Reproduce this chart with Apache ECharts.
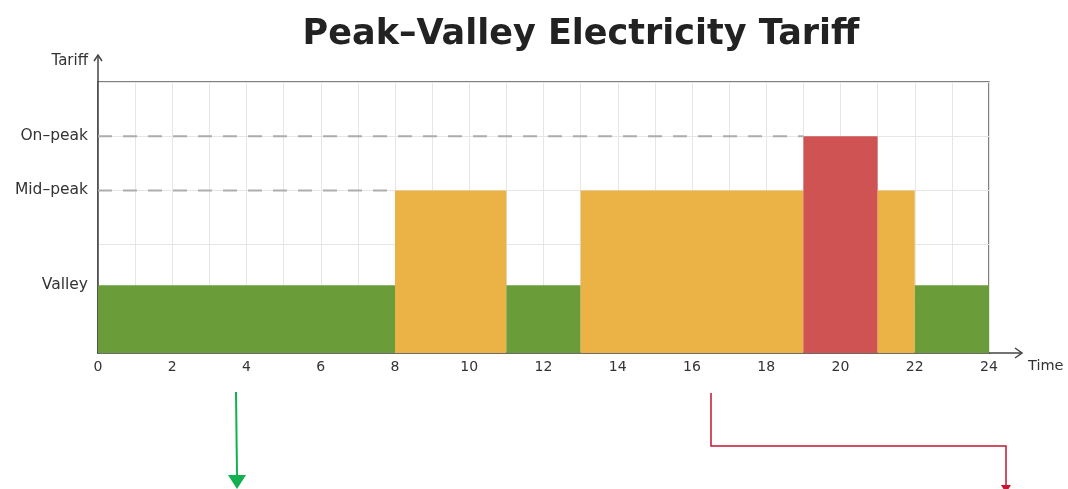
<!DOCTYPE html>
<html>
<head>
<meta charset="utf-8">
<title>Peak–Valley Electricity Tariff</title>
<script src="https://cdn.jsdelivr.net/npm/echarts@6/dist/echarts.min.js"></script>
<style>
  html, body { margin: 0; padding: 0; background: #ffffff; }
  #chart { width: 1068px; height: 489px; }
</style>
</head>
<body>
<div id="chart"></div>
<script>
// Tariff tiers: names shown on the y axis and their relative levels
const tierNames = ['Valley', 'Mid–peak', 'On–peak'];
const tierValues = [1.25, 3, 4];
const tierColors = ['#6a9d3a', '#ebb345', '#d05353'];

// Time-of-day segments (hours) and the tier index of each
const segStart = [0, 8, 11, 13, 19, 21, 22];
const segEnd = [8, 11, 13, 19, 21, 22, 24];
const segTier = [0, 1, 0, 1, 2, 1, 0];

// Hour labels on the time axis
const hourLabels = [0, 2, 4, 6, 8, 10, 12, 14, 16, 18, 20, 22, 24];

const FONT = '"DejaVu Sans", Verdana, sans-serif';

const segData = segStart.map((s, i) => [s, segEnd[i], tierValues[segTier[i]], segTier[i]]);

// Dashed guide from the tariff axis to the first segment of each upper tier
const guideSeries = [1, 2].map(t => {
  const firstIdx = segTier.indexOf(t);
  return {
    type: 'line',
    data: [[0, tierValues[t]], [segStart[firstIdx], tierValues[t]]],
    symbol: 'none',
    silent: true,
    z: 3,
    lineStyle: { color: '#adadad', width: 2, type: [14, 11] }
  };
});

const chart = echarts.init(document.getElementById('chart'), null, { renderer: 'canvas' });

const GL = 98, GR = 79, GT = 82, GB = 136;

chart.setOption({
  animation: false,
  backgroundColor: '#ffffff',
  title: {
    text: 'Peak–Valley Electricity Tariff',
    left: 576,
    textAlign: 'center',
    top: 12,
    textStyle: { fontFamily: FONT, fontSize: 35, fontWeight: 'bold', color: '#222222' }
  },
  grid: {
    left: GL, right: GR, top: GT, bottom: GB,
    show: true, borderColor: '#555555', borderWidth: 1.5, backgroundColor: 'transparent'
  },
  xAxis: {
    type: 'value',
    min: 0, max: 24, interval: 1,
    name: 'Time',
    nameLocation: 'end',
    nameGap: 39,
    nameTextStyle: { fontFamily: FONT, fontSize: 14.5, color: '#333333', align: 'left', verticalAlign: 'top', padding: [6, 0, 0, 0] },
    axisLine: { show: true, lineStyle: { color: '#444444', width: 1.5 } },
    axisTick: { show: false },
    axisLabel: { customValues: hourLabels, fontFamily: FONT, fontSize: 14, color: '#333333', margin: 7 },
    splitLine: { show: true, lineStyle: { color: '#e6e6e6', width: 1 } }
  },
  yAxis: {
    type: 'value',
    min: 0, max: 5, interval: 1,
    name: 'Tariff',
    nameLocation: 'end',
    nameGap: 13,
    nameTextStyle: { fontFamily: FONT, fontSize: 15, color: '#333333', align: 'right', padding: [0, 10, 0, 0] },
    axisLine: { show: true, lineStyle: { color: '#444444', width: 1.5 } },
    axisTick: { show: false },
    axisLabel: {
      customValues: tierValues,
      formatter: v => tierNames[tierValues.indexOf(v)],
      fontFamily: FONT, fontSize: 15.5, color: '#333333', margin: 10
    },
    splitLine: { show: true, lineStyle: { color: '#e6e6e6', width: 1 } }
  },
  series: [
    {
      type: 'custom',
      data: segData,
      z: 2,
      silent: true,
      renderItem: (params, api) => {
        const topLeft = api.coord([api.value(0), api.value(2)]);
        const bottomRight = api.coord([api.value(1), 0]);
        return {
          type: 'rect',
          shape: {
            x: topLeft[0], y: topLeft[1],
            width: bottomRight[0] - topLeft[0],
            height: bottomRight[1] - topLeft[1]
          },
          style: { fill: tierColors[api.value(3)] }
        };
      }
    },
    ...guideSeries
  ]
});

// Axis extensions with open arrowheads, and the pointer arrows below the chart
const xEnd = chart.convertToPixel({ xAxisIndex: 0 }, 24);
const x0 = chart.convertToPixel({ xAxisIndex: 0 }, 0);
const y0 = chart.convertToPixel({ yAxisIndex: 0 }, 0);
const yTop = chart.convertToPixel({ yAxisIndex: 0 }, 5);
const axisStroke = { stroke: '#444444', lineWidth: 1.5, fill: null };

chart.setOption({
  graphic: [
    { type: 'line', shape: { x1: xEnd, y1: y0, x2: xEnd + 33, y2: y0 }, style: axisStroke },
    { type: 'polyline', shape: { points: [[xEnd + 26, y0 - 5], [xEnd + 33, y0], [xEnd + 26, y0 + 5]] }, style: axisStroke },
    { type: 'line', shape: { x1: x0, y1: yTop, x2: x0, y2: yTop - 27 }, style: axisStroke },
    { type: 'polyline', shape: { points: [[x0 - 4, yTop - 21], [x0, yTop - 27], [x0 + 4, yTop - 21]] }, style: axisStroke },
    // green pointer
    { type: 'line', shape: { x1: 236, y1: 392, x2: 237, y2: 476 }, style: { stroke: '#12b04e', lineWidth: 2 } },
    { type: 'polygon', shape: { points: [[228, 475], [246, 475], [237, 489]] }, style: { fill: '#12b04e' } },
    // red pointer
    { type: 'polyline', shape: { points: [[711, 393], [711, 446], [1006, 446], [1006, 485]] }, style: { stroke: '#c4162f', lineWidth: 1.5, fill: null } },
    { type: 'polygon', shape: { points: [[1001, 485], [1011, 485], [1006, 493]] }, style: { fill: '#c4162f' } }
  ]
});
</script>
</body>
</html>
